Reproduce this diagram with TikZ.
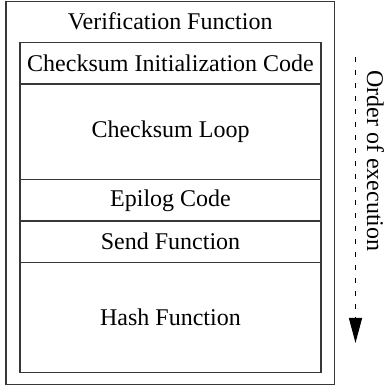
\documentclass[tikz,border=0pt]{standalone}
\usepackage{fontspec}
\setmainfont{Liberation Serif}
\usetikzlibrary{arrows.meta,positioning}
\definecolor{vfline}{RGB}{55,55,55}
\tikzset{
  part/.style={draw=vfline, line width=1.2pt, minimum width=301pt, inner sep=0pt, outer sep=0pt, font=\rmfamily\fontsize{24}{28}\selectfont},
  label/.style={inner sep=0pt, font=\rmfamily\fontsize{24}{28}\selectfont},
  order/.style={line width=1.3pt, dash pattern=on 5pt off 8pt, -{Triangle[width=13pt,length=25pt]}}
}

\begin{document}
\begin{tikzpicture}[x=1pt,y=1pt]
\useasboundingbox (0,0) rectangle (386,388);
% Outer box
\node[part, minimum width=328.5pt, minimum height=382.5pt, anchor=north west] (verif) at (6,386.2) {};
\node[label, anchor=base] (title) at (170.25,358.7) {Verification Function};

% Parts of the function
\node[part, minimum height=41.3pt, anchor=north west] (init) at (20,345.3) {Checksum Initialization Code};
\node[part, minimum height=95.7pt, below=0pt of init] (loop) {Checksum Loop};
\node[part, minimum height=41.3pt, below=0pt of loop] (epilog) {Epilog Code};
\node[part, minimum height=41.3pt, below=0pt of epilog] (send) {Send Function};
\node[part, minimum height=110pt, below=0pt of send] (hash) {Hash Function};

% Order of execution
\coordinate (start) at (355.5,331);
\coordinate (end) at (355.5,45);
\draw[order] (start) -- (end);
\node[label, rotate=-90, anchor=base] (ordertext) at (367,227) {Order of execution};
\end{tikzpicture}
\end{document}
